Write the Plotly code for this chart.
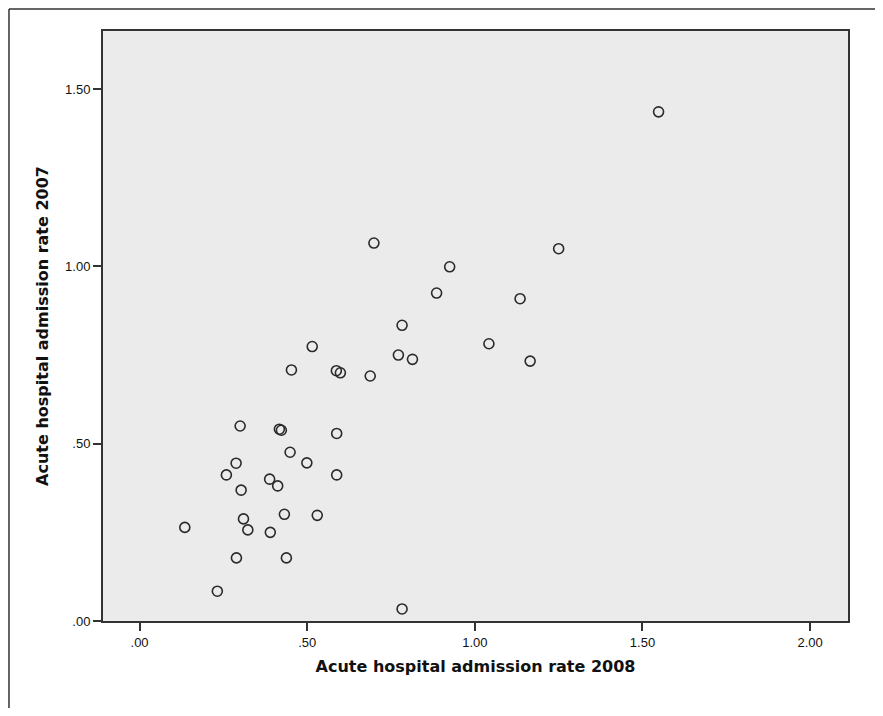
import plotly.graph_objects as go

rate_2008 = [1.548, 0.699, 0.925, 1.250, 0.886, 1.135, 0.783, 0.515, 1.042, 0.772,
             0.814, 1.165, 0.453, 0.587, 0.599, 0.688, 0.300, 0.417, 0.423, 0.588,
             0.449, 0.288, 0.499, 0.259, 0.588, 0.388, 0.412, 0.303, 0.432, 0.530,
             0.310, 0.135, 0.323, 0.390, 0.289, 0.438, 0.232, 0.783]
rate_2007 = [1.436, 1.066, 0.999, 1.050, 0.925, 0.909, 0.834, 0.774, 0.782, 0.750,
             0.738, 0.733, 0.708, 0.706, 0.700, 0.691, 0.550, 0.541, 0.538, 0.529,
             0.476, 0.445, 0.446, 0.412, 0.412, 0.400, 0.381, 0.369, 0.301, 0.298,
             0.288, 0.264, 0.257, 0.250, 0.178, 0.178, 0.084, 0.034]

x_tick_vals = [0.0, 0.5, 1.0, 1.5, 2.0]
x_tick_text = [".00", ".50", "1.00", "1.50", "2.00"]
y_tick_vals = [0.0, 0.5, 1.0, 1.5]
y_tick_text = [".00", ".50", "1.00", "1.50"]

fig = go.Figure()
fig.add_trace(go.Scatter(
    x=rate_2008, y=rate_2007, mode="markers",
    marker=dict(symbol="circle-open", size=10, color="#2a2a2a", line=dict(width=1.6)),
    showlegend=False, hoverinfo="x+y",
))

axis_common = dict(
    showgrid=False, zeroline=False, showline=True, linecolor="#333333", linewidth=2,
    mirror=True, ticks="outside", ticklen=8, tickwidth=1.5, tickcolor="#333333",
    tickfont=dict(family="Liberation Sans, Arial, sans-serif", size=13, color="#111111"),
)

fig.update_layout(
    width=867, height=700,
    margin=dict(l=95, r=27, t=23, b=87),
    paper_bgcolor="white", plot_bgcolor="#ebebeb",
    xaxis=dict(range=[-0.109, 2.113], tickvals=x_tick_vals, ticktext=x_tick_text,
               title=dict(text="<b>Acute hospital admission rate 2008</b>", standoff=12,
                          font=dict(family="DejaVu Sans, Verdana, sans-serif", size=16, color="#111111")),
               **axis_common),
    yaxis=dict(range=[0, 1.664], tickvals=y_tick_vals, ticktext=y_tick_text,
               title=dict(text="<b>Acute hospital admission rate 2007</b>", standoff=12,
                          font=dict(family="DejaVu Sans, Verdana, sans-serif", size=16, color="#111111")),
               **axis_common),
)

# outer image frame (left and top edges)
fig.add_shape(type="line", xref="paper", yref="paper", x0=-0.1262, x1=-0.1262, y0=-0.2, y1=1.0372,
              line=dict(color="#333333", width=1.5))
fig.add_shape(type="line", xref="paper", yref="paper", x0=-0.1262, x1=1.06, y0=1.0372, y1=1.0372,
              line=dict(color="#333333", width=1.5))

fig.write_html("out.html")
